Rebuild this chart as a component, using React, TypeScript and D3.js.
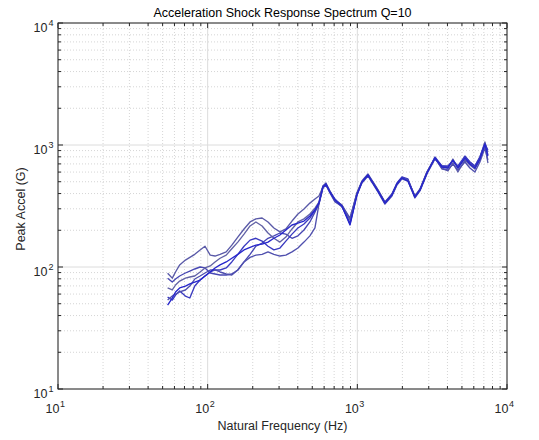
import React from 'react';
import * as d3 from 'd3';

const freqHz = [54, 58, 61, 65, 71, 76, 82, 89, 96, 104, 112, 121, 133, 145, 159, 175, 192, 210, 231, 253, 277, 304, 333, 366, 401, 440, 482, 521, 554,
  589, 617, 656, 709, 789, 893, 994, 1073, 1177, 1271, 1373, 1529, 1703, 1839, 1986, 2178, 2425, 2620, 2917, 3300, 3674, 4029, 4351, 4699, 5234, 5651, 6103, 6592, 7118, 7455];

const run1Low = [89, 81, 91, 104, 114, 120, 127, 138, 148, 125, 123, 127, 133, 151, 176, 205, 234, 248, 252, 234, 209, 194, 205, 238, 272, 299, 334, 361, 382];
const run1High = [453, 479, 412, 348, 310, 248, 397, 498, 568, 488, 420, 335, 389, 479, 537, 517, 375, 428, 590, 782, 648, 612, 712, 601, 753, 686, 636, 753, 1000, 712];
const run2Low = [81, 75.3, 79.7, 84.4, 89.3, 92.7, 96.3, 100, 98.2, 89.3, 87.6, 86, 86, 87.6, 94.5, 110, 127, 148, 157, 172, 180, 190, 186, 172, 180, 201, 234, 282, 328];
const run2High = [444, 470, 404, 341, 316, 225, 389, 488, 557, 479, 412, 328, 382, 470, 527, 507, 368, 420, 579, 767, 673, 660, 753, 660, 797, 725, 673, 797, 1038, 876];
const run3Low = [67.3, 64.8, 71.2, 76.7, 81.2, 82.8, 84.4, 91, 98.2, 102, 110, 118, 125, 141, 160, 186, 217, 234, 217, 190, 172, 160, 176, 205, 234, 248, 272, 304, 341];
const run3High = [461, 479, 420, 354, 322, 243, 404, 498, 568, 498, 428, 341, 389, 479, 537, 517, 382, 436, 601, 782, 660, 648, 767, 648, 782, 712, 660, 782, 1058, 828];
const run4Low = [56.7, 53.6, 58.9, 63.6, 57.8, 55.7, 69.8, 78.2, 84.4, 91, 94.5, 94.5, 98.2, 110, 127, 148, 166, 172, 163, 148, 138, 143, 163, 186, 209, 225, 252, 293, 334];
const run4High = [453, 470, 412, 361, 316, 229, 397, 498, 568, 488, 420, 335, 397, 488, 547, 527, 375, 428, 590, 797, 673, 673, 739, 673, 812, 725, 673, 797, 1019, 910];
const run5Low = [53.6, 57.8, 60, 62.4, 64.8, 69.8, 79.7, 84.4, 89.3, 94.5, 94.5, 91, 87.6, 86, 94.5, 110, 120, 125, 127, 133, 127, 123, 125, 133, 143, 160, 180, 209, 328];
const run5High = [461, 488, 420, 354, 322, 252, 404, 507, 579, 498, 428, 341, 397, 479, 537, 517, 382, 428, 601, 782, 636, 624, 698, 624, 725, 648, 601, 725, 945, 753];
const run6Low = [48.8, 55.7, 62.4, 67.3, 69.8, 72.6, 75.3, 78.2, 84.4, 91, 98.2, 104, 110, 118, 127, 138, 145, 151, 154, 160, 172, 183, 201, 221, 229, 238, 262, 293, 334];
const run6High = [453, 479, 412, 354, 316, 221, 389, 498, 568, 488, 420, 335, 389, 479, 537, 507, 375, 428, 590, 782, 660, 648, 753, 648, 782, 698, 648, 767, 1019, 812];

const runs = [
  [...run1Low, ...run1High],
  [...run2Low, ...run2High],
  [...run3Low, ...run3High],
  [...run4Low, ...run4High],
  [...run5Low, ...run5High],
  [...run6Low, ...run6High],
];
const runColors = ['#5a5aa8', '#4848b4', '#6262a6', '#3a3ac0', '#5050ae', '#2626cc'];

const decadeExps = [1, 2, 3, 4];
const title = 'Acceleration Shock Response Spectrum Q=10';
const xLabel = 'Natural Frequency (Hz)';
const yLabel = 'Peak Accel (G)';

const L = 58, R = 507, T = 23, B = 389;
const FONT = '"Liberation Sans", Arial, Helvetica, sans-serif';
const AX = '#262626';

export default function App() {
  const x = d3.scaleLog().domain([10, 10000]).range([L, R]);
  const y = d3.scaleLog().domain([10, 10000]).range([B, T]);
  const ticks = x.ticks();
  const isMajor = (v: number) => Math.abs(Math.log10(v) - Math.round(Math.log10(v))) < 1e-9;
  const minor = ticks.filter(v => !isMajor(v));
  const major = ticks.filter(isMajor);
  const line = d3.line<number>().x((_, i) => x(freqHz[i])).y(d => y(d));

  return (
    <div style={{ position: 'fixed', left: 0, top: 0, width: 539, height: 440, background: '#fff' }}>
      <svg width={539} height={440} style={{ display: 'block' }} fontFamily={FONT}>
        <rect x={0} y={0} width={539} height={440} fill="#fff" />
        {minor.map(v => (
          <g key={'mg' + v}>
            <line x1={x(v)} x2={x(v)} y1={T} y2={B} stroke="#cacaca" strokeWidth={0.8} strokeDasharray="1 2" />
            <line x1={L} x2={R} y1={y(v)} y2={y(v)} stroke="#cacaca" strokeWidth={0.8} strokeDasharray="1 2" />
          </g>
        ))}
        {major.map(v => (
          <g key={'Mg' + v}>
            <line x1={x(v)} x2={x(v)} y1={T} y2={B} stroke="#dcdcdc" strokeWidth={1} />
            <line x1={L} x2={R} y1={y(v)} y2={y(v)} stroke="#dcdcdc" strokeWidth={1} />
          </g>
        ))}
        {runs.map((r, i) => (
          <path key={'run' + i} d={line(r) || ''} fill="none" stroke={runColors[i]} strokeWidth={1.35} strokeLinejoin="round" />
        ))}
        {ticks.map(v => {
          const len = isMajor(v) ? 5 : 3;
          return (
            <g key={'t' + v} stroke={AX} strokeWidth={1}>
              <line x1={x(v)} x2={x(v)} y1={B} y2={B - len} />
              <line x1={x(v)} x2={x(v)} y1={T} y2={T + len} />
              <line x1={L} x2={L + len} y1={y(v)} y2={y(v)} />
              <line x1={R} x2={R - len} y1={y(v)} y2={y(v)} />
            </g>
          );
        })}
        <rect x={L} y={T} width={R - L} height={B - T} fill="none" stroke={AX} strokeWidth={1} />
        {decadeExps.map(e => {
          const px = x(Math.pow(10, e));
          return (
            <g key={'xl' + e} fill={AX}>
              <text x={px + 1.5} y={B + 24} fontSize={12.5} textAnchor="end">10</text>
              <text x={px + 2} y={B + 18} fontSize={9}>{e}</text>
            </g>
          );
        })}
        {decadeExps.map(e => {
          const py = y(Math.pow(10, e));
          return (
            <g key={'yl' + e} fill={AX}>
              <text x={47.5} y={py + 8.5} fontSize={12.5} textAnchor="end">10</text>
              <text x={48.5} y={py + 2.5} fontSize={9}>{e}</text>
            </g>
          );
        })}
        <text x={(L + R) / 2} y={17} fontSize={12.5} textAnchor="middle" fill="#000">{title}</text>
        <text x={(L + R) / 2} y={430} fontSize={12.5} textAnchor="middle" fill={AX}>{xLabel}</text>
        <text transform={`translate(25,${(T + B) / 2 + 3}) rotate(-90)`} fontSize={12.5} textAnchor="middle" fill={AX}>{yLabel}</text>
      </svg>
    </div>
  );
}
